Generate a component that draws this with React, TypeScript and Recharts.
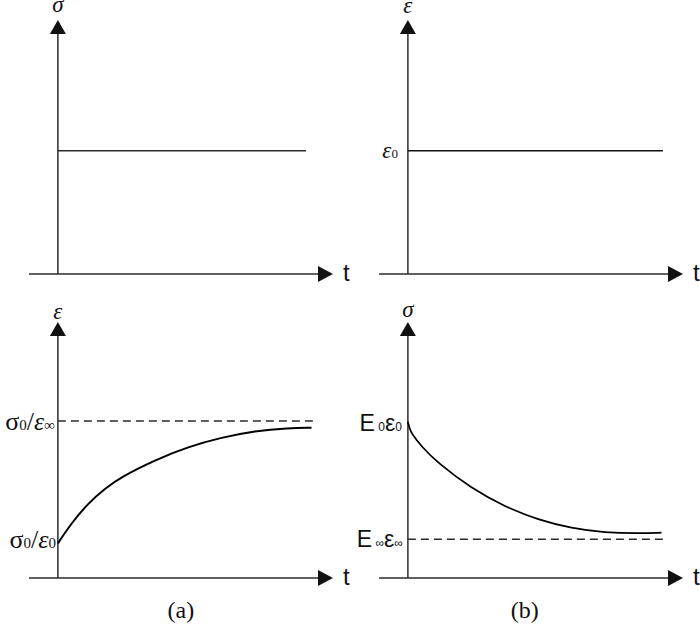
import React from 'react';
import { LineChart, Line, XAxis, YAxis, ReferenceLine, ReferenceDot } from 'recharts';

// values, in plot units (t: -1.05..10, y: 0..10)
const creepT = [0, 0.49, 1.1, 1.71, 2.32, 3.53, 4.74, 5.95, 7.16, 8.38, 9.22];
const creepStrain = [1.35, 2.14, 2.92, 3.5, 3.96, 4.61, 5.13, 5.49, 5.75, 5.86, 5.87];
const relaxT = [0, 0.06, 0.13, 0.5, 1.1, 2.31, 3.53, 4.74, 5.95, 7.16, 8.38, 9.22];
const relaxStress = [6.11, 5.85, 5.65, 5.13, 4.48, 3.5, 2.78, 2.27, 1.94, 1.77, 1.74, 1.77];
const holdT = [0, 9.02];
const holdStress = [4.85, 4.85];
const holdStrainT = [0, 9.27];
const holdStrain = [4.85, 4.85];
const limitT = [0, 9.35];
const creepLimit = [6.13, 6.13];
const relaxLimit = [1.51, 1.51];

const toPts = (xs: number[], ys: number[]) => xs.map((t, i) => ({ t, v: ys[i] }));

const AXIS = '#2b2b2b';
const SERIF = '"Liberation Serif", "DejaVu Serif", serif';
const SANS = '"Liberation Sans", Arial, sans-serif';

const arrowRight = (p: any) => (
  <polygon points={`${p.cx},${p.cy} ${p.cx - 15},${p.cy - 8} ${p.cx - 15},${p.cy + 8}`} fill="#111" />
);
const arrowUp = (p: any) => (
  <polygon points={`${p.cx},${p.cy} ${p.cx - 8},${p.cy + 14} ${p.cx + 8},${p.cy + 14}`} fill="#111" />
);

const textAt = (node: React.ReactNode, dx: number, dy: number, anchor: string, font: string, size: number, italic = false) =>
  (p: any) => (
    <text x={p.cx + dx} y={p.cy + dy} textAnchor={anchor} fontFamily={font} fontSize={size}
      fontStyle={italic ? 'italic' : 'normal'} fill="#111">
      {node}
    </text>
  );

const sub = (s: string, size: number) => <tspan fontSize={size}>{s}</tspan>;

interface PanelProps {
  left: number;
  top: number;
  height: number;
  mtop: number;
  mbottom: number;
  title: string;
  titleDy: number;
  children?: React.ReactNode;
}

function Panel({ left, top, height, mtop, mbottom, title, titleDy, children }: PanelProps) {
  return (
    <div style={{ position: 'absolute', left, top }}>
      <LineChart width={350} height={height} margin={{ top: mtop, right: 17, bottom: mbottom, left: 29 }}>
        <XAxis type="number" dataKey="t" domain={[-1.05, 10]} hide allowDataOverflow />
        <YAxis type="number" dataKey="v" domain={[0, 10]} hide allowDataOverflow />
        <ReferenceLine segment={[{ x: -1.05, y: 0 }, { x: 9.7, y: 0 }]} stroke={AXIS} strokeWidth={1.5} />
        <ReferenceLine segment={[{ x: 0, y: 0 }, { x: 0, y: 9.6 }]} stroke={AXIS} strokeWidth={1.5} />
        <ReferenceDot x={10} y={0} ifOverflow="visible" shape={arrowRight} />
        <ReferenceDot x={0} y={10} ifOverflow="visible" shape={arrowUp} />
        <ReferenceDot x={10} y={0} ifOverflow="visible" shape={textAt('t', 10, 7, 'start', SANS, 24)} />
        <ReferenceDot x={0} y={10} ifOverflow="visible" shape={textAt(title, 0, titleDy, 'middle', SERIF, 23, true)} />
        {children}
      </LineChart>
    </div>
  );
}

export default function App() {
  return (
    <div style={{ position: 'absolute', left: 0, top: 0, width: 700, height: 626, background: '#fff' }}>
      <Panel left={0} top={0} height={300} mtop={20} mbottom={26} title="σ" titleDy={-8}>
        <Line data={toPts(holdT, holdStress)} dataKey="v" stroke={AXIS} strokeWidth={1.5} dot={false} activeDot={false} isAnimationActive={false} />
      </Panel>
      <Panel left={350} top={0} height={300} mtop={20} mbottom={26} title="ε" titleDy={-7}>
        <Line data={toPts(holdStrainT, holdStrain)} dataKey="v" stroke="#111" strokeWidth={1.5} dot={false} activeDot={false} isAnimationActive={false} />
        <ReferenceDot x={0} y={4.85} ifOverflow="visible"
          shape={textAt(<><tspan fontStyle="italic" fontSize={23}>ε</tspan>{sub('0', 13)}</>, -10, 7, 'end', SERIF, 23)} />
      </Panel>
      <Panel left={0} top={285} height={341} mtop={37} mbottom={48} title="ε" titleDy={-3}>
        <Line data={toPts(limitT, creepLimit)} dataKey="v" stroke={AXIS} strokeWidth={1.5} strokeDasharray="8 5" dot={false} activeDot={false} isAnimationActive={false} />
        <Line data={toPts(creepT, creepStrain)} type="basis" dataKey="v" stroke="#000" strokeWidth={2} dot={false} activeDot={false} isAnimationActive={false} />
        <ReferenceDot x={0} y={6.13} ifOverflow="visible"
          shape={textAt(<>σ{sub('0', 15)}/<tspan fontStyle="italic">ε</tspan>{sub('∞', 15)}</>, -3, 9, 'end', SERIF, 26)} />
        <ReferenceDot x={0} y={1.35} ifOverflow="visible"
          shape={textAt(<>σ{sub('0', 15)}/<tspan fontStyle="italic">ε</tspan>{sub('0', 15)}</>, -2, 5, 'end', SERIF, 26)} />
        <ReferenceDot x={4.47} y={0} ifOverflow="visible" shape={textAt('(a)', 0, 40, 'middle', SERIF, 24)} />
      </Panel>
      <Panel left={350} top={285} height={341} mtop={37} mbottom={48} title="σ" titleDy={-5}>
        <Line data={toPts(limitT, relaxLimit)} dataKey="v" stroke={AXIS} strokeWidth={1.5} strokeDasharray="8 5" dot={false} activeDot={false} isAnimationActive={false} />
        <Line data={toPts(relaxT, relaxStress)} type="basis" dataKey="v" stroke="#000" strokeWidth={1.7} dot={false} activeDot={false} isAnimationActive={false} />
        <ReferenceDot x={0} y={6.11} ifOverflow="visible"
          shape={textAt(<>E{sub(' 0', 12)}ε{sub('0', 12)}</>, -6, 9, 'end', SANS, 23)} />
        <ReferenceDot x={0} y={1.51} ifOverflow="visible"
          shape={textAt(<>E{sub(' ∞', 12)}ε{sub('∞', 12)}</>, -5, 8, 'end', SANS, 23)} />
        <ReferenceDot x={4.25} y={0} ifOverflow="visible" shape={textAt('(b)', 0, 40, 'middle', SERIF, 24)} />
      </Panel>
    </div>
  );
}
